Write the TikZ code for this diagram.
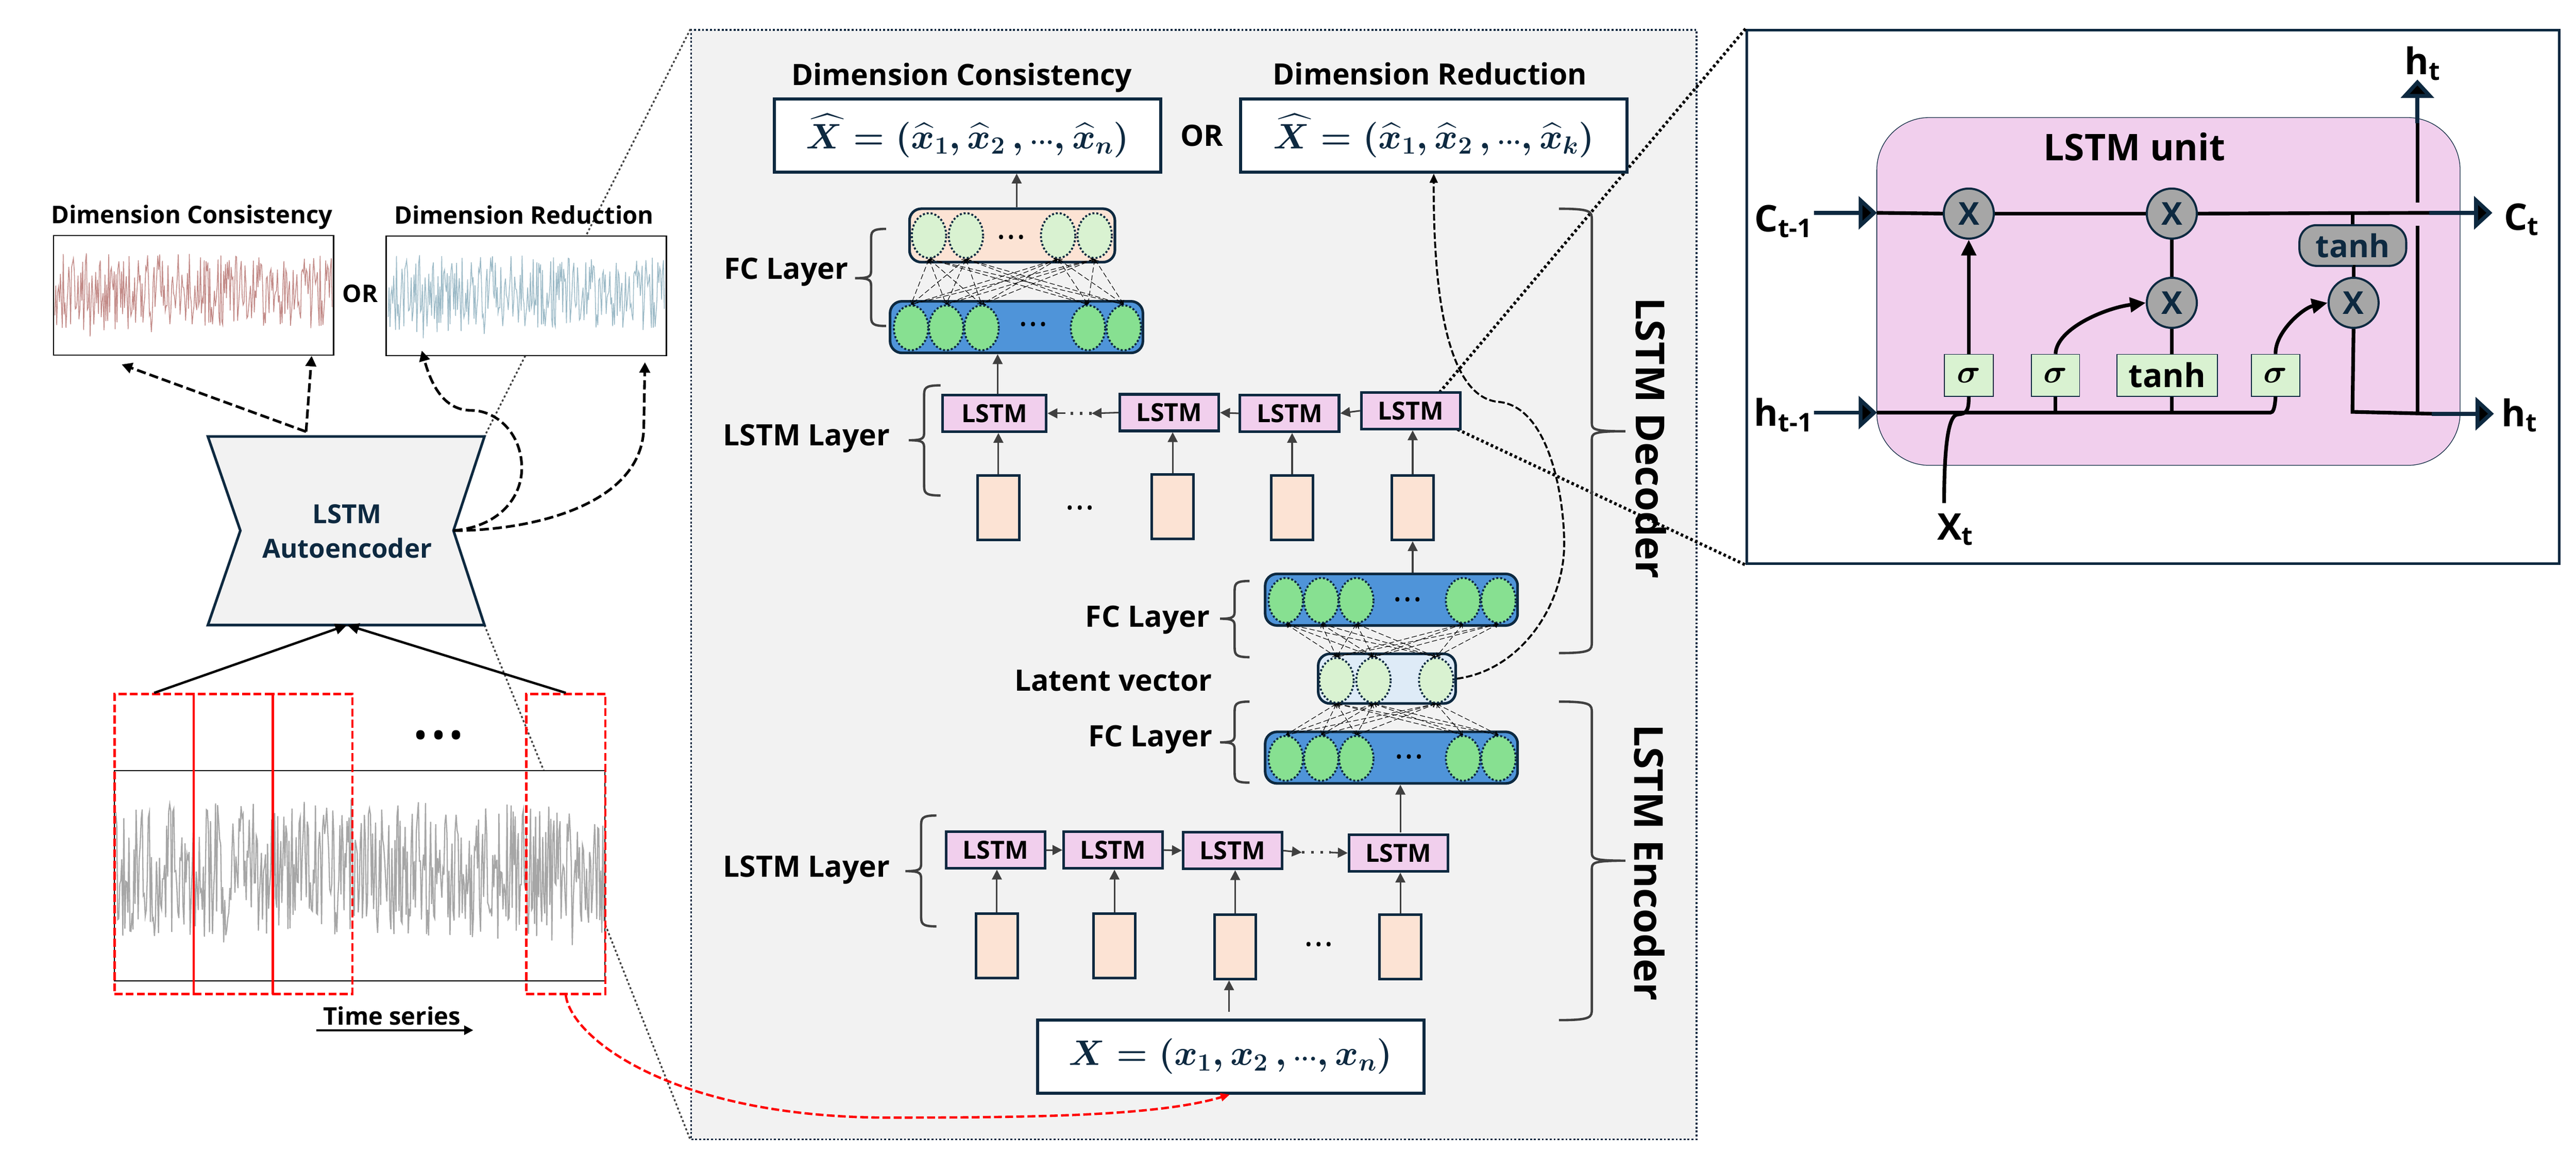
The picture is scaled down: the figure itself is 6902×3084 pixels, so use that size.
\documentclass[tikz,border=0pt]{standalone}
\usepackage{fix-cm}
\usepackage{amsmath}
\usepackage{fontspec}
\setmainfont{Open Sans}
\usetikzlibrary{arrows.meta, shapes.geometric, calc}
\definecolor{colorNavy}{rgb}{0.05, 0.16, 0.25}
\definecolor{colorGrey}{rgb}{0.25, 0.25, 0.25}
\definecolor{colorPanel}{rgb}{0.95, 0.95, 0.95}
\definecolor{colorPink}{rgb}{0.945, 0.81, 0.93}
\definecolor{colorPeach}{rgb}{0.99, 0.89, 0.83}
\definecolor{colorBlue}{rgb}{0.31, 0.58, 0.85}
\definecolor{colorPale}{rgb}{0.87, 0.92, 0.97}
\definecolor{colorGreen}{rgb}{0.53, 0.88, 0.57}
\definecolor{colorLight}{rgb}{0.85, 0.95, 0.82}
\definecolor{colorGate}{rgb}{0.65, 0.65, 0.65}
\definecolor{colorRed}{rgb}{0.76, 0.54, 0.53}
\definecolor{colorSky}{rgb}{0.61, 0.73, 0.78}
\newcommand{\fsize}[1]{\fontsize{#1}{#1}\selectfont\bfseries}
\newcommand{\threedots}[1]{\textbullet\kern#1\textbullet\kern#1\textbullet}
\newcommand{\curly}[6]{\draw [curlyline] (#1, #4) .. controls (#2, #4) and (#2, #4 + 8) .. (#2, #4 + 30) -- (#2, #5 - 24) .. controls (#2, #5 - 6) and (#2, #5) .. (#3, #5) .. controls (#2, #5) and (#2, #5 + 6) .. (#2, #5 + 24) -- (#2, #6 - 30) .. controls (#2, #6 - 8) and (#2, #6) .. (#1, #6);}
\tikzset{
  label18/.style = {font = \fsize{18.5}},
  label22/.style = {font = \fsize{22.4}},
  sidetitle/.style = {font = \fsize{30.4}, rotate = -90},
  framebox/.style = {draw = black, line width = 1pt, fill = white, minimum width = 7.5cm, minimum height = 3.2cm},
  hatbox/.style = {draw = colorNavy, line width = 2.2pt, fill = white, minimum width = 10.35cm, minimum height = 1.96cm, text = colorNavy, font = \boldmath\fontsize{27}{27}\selectfont},
  lstmbox/.style = {draw = colorNavy, line width = 2pt, fill = colorPink, minimum width = 2.65cm, minimum height = 0.98cm, inner sep = 0pt, font = \fsize{19}},
  inbox/.style = {draw = colorNavy, line width = 2pt, fill = colorPeach, minimum width = 1.11cm, minimum height = 1.72cm, inner sep = 0pt},
  layerbox/.style = {draw = colorNavy, line width = 2pt, rounded corners = 9pt, inner sep = 0pt},
  neuron/.style = {ellipse, draw = colorNavy, line width = 1.5pt, dash pattern = on 1.5pt off 1.5pt, inner sep = 0pt, minimum width = 0.92cm, minimum height = 1.2cm},
  dots/.style = {font = \fsize{11}, inner sep = 0pt},
  mesh/.style = {line width = 0.45pt, dash pattern = on 4pt off 2pt, {To[length = 3pt, width = 4pt]}-{To[length = 3pt, width = 4pt]}},
  flow/.style = {colorGrey, line width = 1.2pt, -{Triangle[length = 7.5pt, width = 7.5pt]}},
  curlyline/.style = {colorGrey, line width = 1.8pt},
  dashflow/.style = {black, line width = 2pt, dash pattern = on 7pt off 3pt, -{Triangle[length = 8pt, width = 8pt]}},
  thinflow/.style = {black, line width = 1.5pt, dash pattern = on 5pt off 2pt, -{Triangle[length = 7pt, width = 6pt]}},
  zoomgrey/.style = {colorGrey, line width = 1.3pt, dash pattern = on 1.6pt off 1.8pt},
  zoomblack/.style = {black, line width = 2.3pt, dash pattern = on 2pt off 2pt},
  window/.style = {red, line width = 1.8pt, dash pattern = on 6pt off 2.5pt},
  gate/.style = {circle, draw = colorNavy, line width = 1.6pt, fill = colorGate, text = colorNavy, minimum size = 1.34cm, inner sep = 0pt, font = \fsize{24}},
  squash/.style = {draw = colorNavy, line width = 0.7pt, fill = colorLight, minimum height = 1.12cm, inner sep = 0pt, font = \boldmath\fsize{25}},
  cell/.style = {black, line width = 2.8pt},
  celltip/.style = {black, line width = 2.8pt, -{Triangle[length = 12pt, width = 11pt]}},
  bigflow/.style = {colorNavy, line width = 3pt, -{Triangle[length = 14pt, width = 25pt, fill = black, line width = 3pt]}},
  cellname/.style = {font = \fsize{28}, inner sep = 0pt},
}
\begin{document}
\begin{tikzpicture}[x = 0.01cm, y = -0.01cm]

\useasboundingbox (0, 0) rectangle (6902, 3084);

\node [fill = colorPanel, draw = colorNavy, line width = 1.3pt, dash pattern = on 1.5pt off 1.5pt, minimum width = 26.92cm, minimum height = 29.69cm] (panel) at (3199, 1565.5) {};
\node [draw = colorNavy, line width = 2pt, fill = white, minimum width = 21.76cm, minimum height = 14.28cm] (unit) at (5769, 795) {};

\coordinate (aeTL) at (557, 1169);
\coordinate (aeTR) at (1298, 1169);
\coordinate (aeR) at (1215, 1421);
\coordinate (aeBR) at (1298, 1674);
\coordinate (aeBL) at (557, 1674);
\coordinate (aeL) at (644, 1421);
\coordinate (aeB) at (930, 1674);
\coordinate (aeT) at (820, 1156);

\draw [zoomgrey] (panel.north west) -- (aeTR);
\draw [zoomgrey] (aeBR) -- (1457, 2064);
\draw [zoomgrey] (1622, 2477) -- (panel.south west);

\node [framebox] (outRed) at (518.5, 791) {};
\node [framebox] (outBlue) at (1410, 792.5) {};
\node [label18] (titleRed) at (514, 582) {Dimension Consistency};
\node [label18] (titleBlue) at (1404, 576) {Dimension Reduction};
\node [label18] (orLeft) at (965, 786) {OR};
\pgfmathsetseed{41}
\draw [colorRed, line width = 0.6pt] plot [domain = 147:890, samples = 300] (\x, {780 + 100 * rand + 45 * rand * rand * rand});
\pgfmathsetseed{41}
\draw [colorSky, line width = 0.6pt] plot [domain = 1040:1780, samples = 300] (\x, {785 + 100 * rand + 45 * rand * rand * rand});

\draw [colorNavy, line width = 2pt, fill = colorPanel] (aeTL) -- (aeTR) -- (aeR) -- (aeBR) -- (aeBL) -- (aeL) -- cycle;
\node [text = colorNavy, font = \fsize{20}, align = center] (aeText) at (930, 1423) {LSTM\\[6pt]Autoencoder};

\draw [dashflow] (aeT) -- (326, 976);
\draw [dashflow] (aeT) -- (outRed.south -| 835, 952);
\draw [dashflow] (aeR) .. controls (1340, 1410) and (1398, 1330) .. (1398, 1254) .. controls (1398, 1160) and (1330, 1099) .. (1262, 1099) .. controls (1180, 1099) and (1150, 1010) .. (1130, 939);
\draw [dashflow] (aeR) .. controls (1430, 1421) and (1725, 1350) .. (1725, 1140) -- (1728, 970);

\node [draw = black, line width = 1pt, fill = white, minimum width = 13.13cm, minimum height = 5.63cm] (series) at (963.5, 2345.5) {};
\pgfmathsetseed{77}
\draw [colorGate, line width = 0.9pt] plot [domain = 310:1618, samples = 480] (\x, {2335 + 180 * rand + 72 * rand * rand * rand});
\node [window, draw, minimum width = 2.12cm, minimum height = 8.03cm] (win1) at (413, 2260.5) {};
\node [window, draw, minimum width = 2.12cm, minimum height = 8.03cm] (win2) at (625, 2260.5) {};
\node [window, draw, minimum width = 2.13cm, minimum height = 8.03cm] (win3) at (837.5, 2260.5) {};
\node [window, draw, minimum width = 2.12cm, minimum height = 8.03cm] (win4) at (1516, 2260.5) {};
\node [font = \fsize{23}, inner sep = 0pt] (winDots) at (1175, 1977) {\threedots{5pt}};
\draw [black, line width = 1.8pt, -{Triangle[length = 9pt, width = 8pt]}] (win1.north) -- (aeB);
\draw [black, line width = 1.8pt, -{Triangle[length = 9pt, width = 8pt]}] (win4.north) -- (aeB);
\node [label18] (timeText) at (1050, 2721) {Time series};
\coordinate (timeStart) at (847, 2759);
\coordinate (timeEnd) at (1268, 2759);
\draw [black, line width = 1.5pt, -{Triangle[length = 7pt, width = 7pt]}] (timeStart) -- (timeEnd);

\draw [zoomblack] (3857, 1051) -- (unit.north west);
\draw [zoomblack] (3905, 1150) -- (unit.south west);

\node [hatbox] (hatLeft) at (2592.5, 363) {$\widehat{X} = (\widehat{x}_1, \widehat{x}_2\, , {\scriptstyle\cdots}, \widehat{x}_n)$};
\node [hatbox] (hatRight) at (3841.5, 363) {$\widehat{X} = (\widehat{x}_1, \widehat{x}_2\, , {\scriptstyle\cdots}, \widehat{x}_k)$};
\node [label22] (titleLeft) at (2577, 208) {Dimension Consistency};
\node [label22] (titleRight) at (3831, 198) {Dimension Reduction};
\node [label22] (orMid) at (3220, 363) {OR};

\node [layerbox, fill = colorPeach, minimum width = 5.5cm, minimum height = 1.43cm] (fcTop) at (2712, 630.5) {};
\node [layerbox, fill = colorBlue, minimum width = 6.77cm, minimum height = 1.38cm] (fcDec) at (2723.5, 876) {};
\foreach \name/\xx in {1/2489, 2/2588, 3/2835, 4/2933}
  \node [neuron, fill = colorLight] (top\name) at (\xx, 631) {};
\foreach \name/\xx in {1/2441, 2/2535, 3/2630, 4/2915, 5/3011}
  \node [neuron, fill = colorGreen] (dec\name) at (\xx, 878) {};
\node [dots] (topDots) at (2709, 639) {\threedots{3.5pt}};
\node [dots] (decDots) at (2768, 873) {\threedots{3.5pt}};
\foreach \a in {1, 2, 3, 4}
  \foreach \b in {1, 2, 3, 4, 5}
    \draw [mesh] (top\a.south) -- (dec\b.north);
\draw [flow] (fcTop.north -| 2724, 559) -- (hatLeft.south -| 2724, 461);
\draw [flow] (2673, 1058) -- (fcDec.south -| 2673, 945);

\node [layerbox, fill = colorBlue, minimum width = 6.76cm, minimum height = 1.38cm] (fcMid) at (3728, 1606) {};
\node [layerbox, fill = colorPale, minimum width = 3.68cm, minimum height = 1.33cm] (latent) at (3716, 1817.5) {};
\node [layerbox, fill = colorBlue, minimum width = 6.76cm, minimum height = 1.38cm] (fcEnc) at (3728, 2029) {};
\foreach \name/\xx in {1/3445, 2/3540, 3/3634, 4/3920, 5/4015} {
  \node [neuron, fill = colorGreen] (mid\name) at (\xx, 1608) {};
  \node [neuron, fill = colorGreen] (enc\name) at (\xx, 2031) {};
}
\foreach \name/\xx in {1/3581, 2/3680, 3/3848}
  \node [neuron, fill = colorLight] (lat\name) at (\xx, 1822) {};
\node [dots] (midDots) at (3771, 1610) {\threedots{3.5pt}};
\node [dots] (encDots) at (3775, 2031) {\threedots{3.5pt}};
\foreach \a in {1, 2, 3, 4, 5}
  \foreach \b in {1, 2, 3} {
    \draw [mesh] (mid\a.south) -- (lat\b.north);
    \draw [mesh] (lat\b.south) -- (enc\a.north);
  }

\node [lstmbox, minimum width = 2.78cm] (cellA) at (2664, 1107) {LSTM};
\node [lstmbox] (cellB) at (3133, 1105) {LSTM};
\node [lstmbox] (cellC) at (3455, 1107) {LSTM};
\node [lstmbox] (cellD) at (3780, 1100) {LSTM};
\node [inbox] (feedA) at (2675, 1360) {};
\node [inbox] (feedB) at (3142, 1357) {};
\node [inbox] (feedC) at (3462, 1360) {};
\node [inbox] (feedD) at (3785, 1360) {};
\node [dots] (feedDots) at (2893, 1364) {\threedots{3.5pt}};
\foreach \a/\b in {A/A, B/B, C/C, D/D}
  \draw [flow] (feed\a.north) -- (feed\a.north |- cell\b.south);
\draw [flow] (fcMid.north -| feedD.south) -- (feedD.south);
\draw [flow] (cellD.west) -- (cellC.east);
\draw [flow] (cellC.west) -- (cellB.east);
\draw [flow] (cellB.west) -- (2925, 1107);
\draw [colorGrey, line width = 2pt, dash pattern = on 2pt off 5pt] (2925, 1107) -- (2855, 1107);
\draw [flow] (2855, 1107) -- (cellA.east);

\node [lstmbox] (codeA) at (2667.5, 2276.5) {LSTM};
\node [lstmbox] (codeB) at (2982.5, 2276.5) {LSTM};
\node [lstmbox] (codeC) at (3302.5, 2278) {LSTM};
\node [lstmbox] (codeD) at (3747, 2284.5) {LSTM};
\node [inbox] (feedE) at (2671, 2533) {};
\node [inbox] (feedF) at (2986, 2533) {};
\node [inbox] (feedG) at (3309.5, 2536) {};
\node [inbox] (feedH) at (3752, 2536) {};
\node [dots] (codeDots) at (3533, 2533) {\threedots{3.5pt}};
\foreach \a/\b in {E/A, F/B, G/C, H/D}
  \draw [flow] (feed\a.north) -- (feed\a.north |- code\b.south);
\draw [flow] (codeA.east) -- (codeB.west);
\draw [flow] (codeB.east) -- (codeC.west);
\draw [flow] (codeC.east) -- (3488, 2283);
\draw [colorGrey, line width = 2pt, dash pattern = on 2pt off 5pt] (3488, 2283) -- (3565, 2283);
\draw [flow] (3565, 2283) -- (codeD.west);
\draw [flow] (3752, 2229) -- (fcEnc.south -| 3752, 2098);
\node [hatbox] (inputBox) at (3297.5, 2829.5) {$X = (x_1, x_2\, , {\scriptstyle\cdots}, x_n)$};
\draw [flow] (3293, 2709) -- (feedG.south -| 3293, 2644);

\node [label22] (fcLabelA) at (2106, 729) {FC Layer};
\node [label22] (lstmLabelA) at (2161, 1174) {LSTM Layer};
\node [label22] (fcLabelB) at (3075, 1660) {FC Layer};
\node [label22] (latentLabel) at (2983, 1823) {Latent vector};
\node [label22] (fcLabelC) at (3082, 1980) {FC Layer};
\node [label22] (lstmLabelB) at (2161, 2330) {LSTM Layer};
\curly{2374}{2334}{2291}{613}{745}{873}
\curly{2520}{2476}{2435}{1032}{1179}{1327}
\curly{3348}{3308}{3269}{1556}{1657}{1760}
\curly{3348}{3308}{3269}{1879}{1988}{2096}
\curly{2509}{2468}{2426}{2184}{2333}{2481}
\curly{4177}{4265}{4355}{559}{1155}{1749}
\curly{4177}{4265}{4355}{1879}{2305}{2732}
\node [sidetitle] (decoderTitle) at (4424, 1173) {LSTM Decoder};
\node [sidetitle] (encoderTitle) at (4419, 2310) {LSTM Encoder};

\draw [thinflow] (latent.east) .. controls (4075, 1795) and (4191, 1620) .. (4191, 1457) .. controls (4191, 1330) and (4150, 1085) .. (4012, 1076) .. controls (3880, 1060) and (3840, 800) .. (hatRight.south);
\draw [red, line width = 1.8pt, dash pattern = on 6pt off 2.5pt, -{Triangle[length = 7pt, width = 6pt]}] (win4.south) .. controls (1530, 2780) and (1800, 2990) .. (2369, 2993) .. controls (2750, 2993) and (3100, 2990) .. (inputBox.south -| 3295, 2929);

\node [draw = colorNavy, line width = 0.5pt, fill = colorPink, rounded corners = 40pt, minimum width = 15.62cm, minimum height = 9.31cm] (pink) at (5810, 780.5) {};
\node [font = \fsize{28}] (pinkTitle) at (5719, 393) {LSTM unit};
\node [gate] (gateA) at (5275, 572) {X};
\node [gate] (gateB) at (5819, 572) {X};
\node [gate] (gateC) at (5819, 811) {X};
\node [gate] (gateD) at (6306, 811) {X};
\node [draw = colorNavy, line width = 1.6pt, fill = colorGate, text = colorNavy, rounded corners = 13pt, minimum width = 2.86cm, minimum height = 1.09cm, inner sep = 0pt, font = \fsize{24}] (tanhTop) at (6304, 657.5) {tanh};
\node [squash, minimum width = 1.31cm] (sigA) at (5275, 1005) {$\sigma$};
\node [squash, minimum width = 1.29cm] (sigB) at (5507.5, 1005) {$\sigma$};
\node [squash, minimum width = 2.69cm] (tanhLow) at (5806.5, 1005) {tanh};
\node [squash, minimum width = 1.3cm] (sigC) at (6097, 1005) {$\sigma$};

\coordinate (cLeft) at (5029, 570);
\coordinate (cRight) at (6509, 570);
\coordinate (hLeft) at (5029, 1105);
\coordinate (hBend) at (6083, 1105);
\coordinate (hJoin) at (6303, 1103);
\coordinate (hRight) at (6516, 1108);
\coordinate (upJoin) at (6477, 1105);
\coordinate (xtStart) at (5209, 1347);

\draw [cell] (cLeft) -- (gateA.west);
\draw [cell] (gateA.east) -- (gateB.west);
\draw [cell] (gateB.east) -- (cRight);
\draw [cell] (hLeft) -- (hBend) .. controls (6090, 1105) and (6095, 1095) .. (sigC.south);
\draw [cell] (sigB.south) -- (sigB.south |- hLeft);
\draw [cell] (tanhLow.south -| gateC.south) -- (gateC.south |- hLeft);
\draw [cell] (gateB.south) -- (gateC.north);
\draw [cell] (gateC.south) -- (tanhLow.north -| gateC.south);
\draw [cell] (tanhTop.north) -- (tanhTop.north |- cLeft);
\draw [cell] (tanhTop.south) -- (tanhTop.south -| gateD.north) -- (gateD.north);
\draw [cell] (gateD.south) -- (hJoin) -- (hRight);
\draw [cell] (upJoin) -- (6477, 605);
\draw [cell] (6477, 543) -- (6477, 315);
\draw [cell] (xtStart) .. controls (5209, 1210) and (5218, 1112) .. (5245, 1110) .. controls (5270, 1108) and (5275, 1100) .. (sigA.south);
\draw [celltip] (sigA.north) -- (gateA.south);
\draw [celltip] (sigB.north) .. controls (5510, 880) and (5640, 825) .. (gateC.west);
\draw [celltip] (sigC.north) .. controls (6095, 890) and (6170, 825) .. (gateD.west);

\node [cellname] (cPrev) at (4779, 593) {C\textsubscript{t-1}};
\node [cellname] (hPrev) at (4779, 1112) {h\textsubscript{t-1}};
\node [cellname] (cNext) at (6756, 588) {C\textsubscript{t}};
\node [cellname] (hNext) at (6751, 1112) {h\textsubscript{t}};
\node [cellname] (hUp) at (6491, 170) {h\textsubscript{t}};
\node [cellname] (xNow) at (5239, 1418) {X\textsubscript{t}};
\coordinate (cTail) at (4860, 570);
\coordinate (hTail) at (4860, 1105);
\coordinate (cHead) at (6678, 570);
\coordinate (hHead) at (6682, 1108);
\coordinate (upHead) at (6477, 213);
\coordinate (upTail) at (6477, 330);
\draw [bigflow] (cTail) -- (cLeft);
\draw [bigflow] (hTail) -- (hLeft);
\draw [bigflow] (cRight) -- (cHead);
\draw [bigflow] (hRight) -- (hHead);
\draw [bigflow] (upTail) -- (upHead);

\end{tikzpicture}
\end{document}
